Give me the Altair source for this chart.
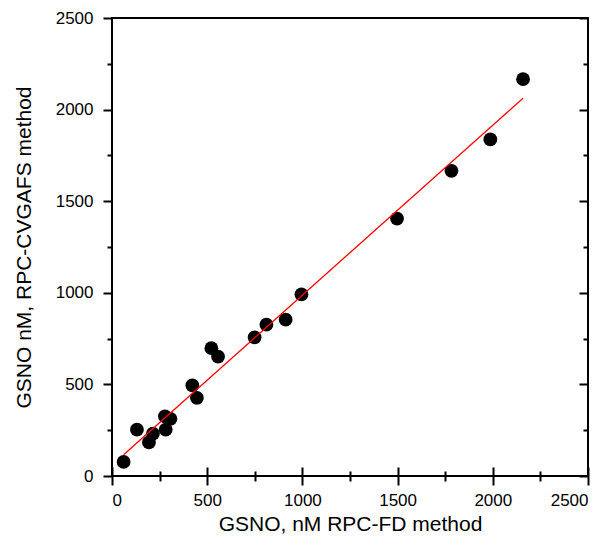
import altair as alt
import pandas as pd

# GSNO concentrations (nM): RPC-FD method (x) vs RPC-CVGAFS method (y)
x_fd = [61, 131, 194, 215, 278, 282, 307, 422, 446, 522, 557, 749, 811, 912, 995, 1497, 1783, 1987, 2159]
y_cvgafs = [77, 253, 183, 231, 326, 253, 312, 495, 427, 698, 652, 757, 826, 853, 991, 1405, 1666, 1837, 2166]

all_ticks = [0, 250, 500, 750, 1000, 1250, 1500, 1750, 2000, 2250, 2500]
axis_domain = [0, 2500]

x_title = "GSNO, nM RPC-FD method"
y_title = "GSNO nM, RPC-CVGAFS method"

FONT = "Liberation Sans"
W, H = 476, 458
MAJOR = 9
MINOR = 5
TW = 2
IS_MAJOR = "datum.value % 500 === 0"

df = pd.DataFrame({"x": x_fd, "y": y_cvgafs})

sx = alt.Scale(domain=axis_domain, nice=False, zero=False)
sy = alt.Scale(domain=axis_domain, nice=False, zero=False)


def axis(orient, title, lpad, tpad, span):
    # grid lines are dashed so only the far end shows: inward ticks on the opposite side
    return alt.Axis(
        orient=orient, values=all_ticks, format="d",
        labelExpr=f"{IS_MAJOR} ? datum.label : ''",
        tickSize={"condition": {"test": IS_MAJOR, "value": MAJOR}, "value": MINOR},
        tickWidth=TW, tickColor="black", domain=False,
        grid=True, gridColor="black", gridWidth=TW, gridOpacity=1, gridCap="butt",
        gridDash={"condition": {"test": IS_MAJOR, "value": [0, span - MAJOR, MAJOR, 1000]},
                  "value": [0, span - MINOR, MINOR, 1000]},
        title=title,
        labelFont=FONT, labelFontSize=17, labelColor="black", labelPadding=lpad,
        titleFont=FONT, titleFontSize=21, titleFontWeight="normal", titleColor="black",
        titlePadding=tpad,
    )


points = alt.Chart(df).mark_circle(size=190, color="black", opacity=1).encode(
    x=alt.X("x:Q", scale=sx, axis=axis("bottom", x_title, 7, 5, H)),
    y=alt.Y("y:Q", scale=sy, axis=axis("left", y_title, 10, 21, W)),
)

fit = alt.Chart(df).transform_regression("x", "y").mark_line(color="#ff0000", strokeWidth=1.3).encode(
    x=alt.X("x:Q", scale=sx, axis=None),
    y=alt.Y("y:Q", scale=sy, axis=None),
)

chart = (
    alt.layer(points, fit)
    .resolve_axis(x="independent", y="independent")
    .properties(
        width=W, height=H,
        autosize=alt.AutoSizeParams(type="none"),
        padding={"left": 104, "top": 10, "right": 9, "bottom": 61},
        background="white",
    )
    .configure_view(stroke="black", strokeWidth=2)
)

chart.save("out.html", embed_options={"renderer": "svg", "actions": False})
